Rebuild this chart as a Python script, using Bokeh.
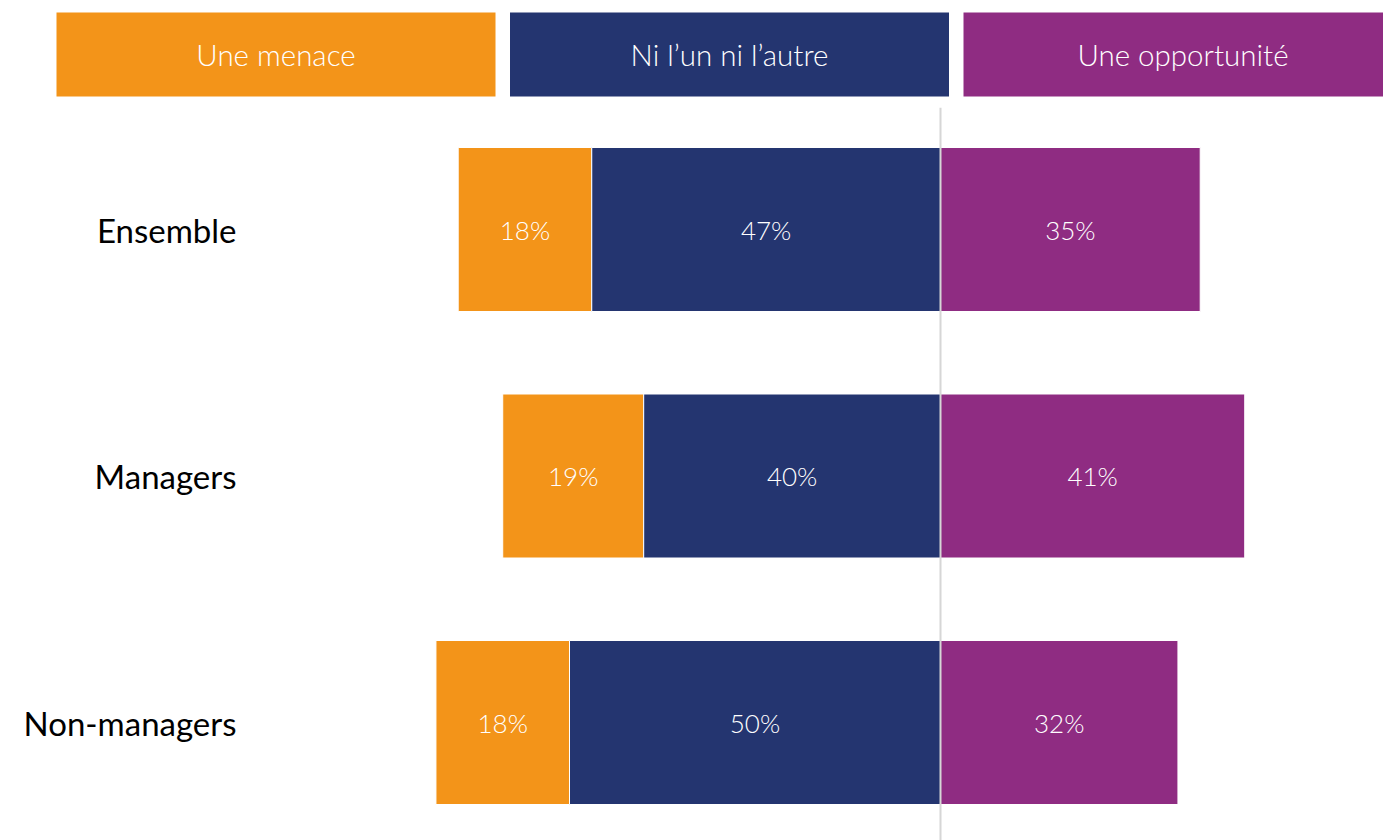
from bokeh.plotting import figure
from bokeh.layouts import column
from bokeh.models import ColumnDataSource, Range1d, Span
from bokeh.core.properties import value
from bokeh.embed import file_html
from bokeh.resources import INLINE

# ---- data ----
categories = ["Ensemble", "Managers", "Non-managers"]
series_names = ["Une menace", "Ni l\u2019un ni l\u2019autre", "Une opportunit\u00e9"]
menace = [18, 19, 18]
neither = [47, 40, 50]
opportunite = [35, 41, 32]
colors = ["#F39419", "#243570", "#8F2C82"]

FONT = value("'Lato Light', Lato")
FONT_CAT = value("Lato")
W = 1383

# ---- header (legend row) ----
HH = 107
step = 453.5
hstart = -275.5 / step
hdr = figure(width=W, height=HH, output_backend="svg", toolbar_location=None,
             x_range=Range1d(hstart, hstart + W / step), y_range=Range1d(HH, 0),
             min_border=0)
hdr.xaxis.visible = False
hdr.yaxis.visible = False
hdr.grid.visible = False
hdr.outline_line_color = None
hsrc = ColumnDataSource(dict(x=list(range(len(series_names))), name=series_names, color=colors))
hdr.rect(x="x", y=54, width=439 / step, height=84, source=hsrc,
         fill_color="color", line_color=None)
hdr.text(x="x", y=54, text="name", source=hsrc, text_color="white",
         text_font=FONT, text_font_size="29.5px", text_align="center",
         text_baseline="middle")

# ---- main diverging bar chart ----
px_per_pct = 7.42
zero_px = 940
xr = Range1d(-zero_px / px_per_pct, (W - zero_px) / px_per_pct)
H = 840 - HH
spacing = 246.5
top_c = 229 - HH
yr = Range1d(start=(H - top_c) / spacing, end=-top_c / spacing)

p = figure(width=W, height=H, output_backend="svg", toolbar_location=None,
           x_range=xr, y_range=yr, min_border=0)
p.grid.visible = False
p.xaxis.visible = False
p.yaxis.visible = False
p.outline_line_color = None

ys = list(range(len(categories)))
bh = 164 / spacing
left_or = [-(m + n) for m, n in zip(menace, neither)]
right_or = [-n for n in neither]
label_x = (236 - zero_px) / px_per_pct
src = ColumnDataSource(dict(
    y=ys, cat=categories, lx=[label_x] * len(ys),
    lo=left_or, ro=right_or, ln=[-n for n in neither], rn=[0] * len(ys),
    lp=[0] * len(ys), rp=opportunite,
    to=[f"{v}%" for v in menace], tn=[f"{v}%" for v in neither], tp=[f"{v}%" for v in opportunite],
    co=[(a + b) / 2 for a, b in zip(left_or, right_or)],
    cn=[-n / 2 for n in neither], cp=[o / 2 for o in opportunite],
))
p.hbar(y="y", left="lo", right="ro", height=bh, source=src, fill_color=colors[0], line_color="white", line_width=1)
p.hbar(y="y", left="ln", right="rn", height=bh, source=src, fill_color=colors[1], line_color="white", line_width=1)
p.hbar(y="y", left="lp", right="rp", height=bh, source=src, fill_color=colors[2], line_color="white", line_width=1)
for cx, tx in (("co", "to"), ("cn", "tn"), ("cp", "tp")):
    p.text(x=cx, y="y", text=tx, source=src, text_color="white", text_font=FONT,
           text_font_size="26px", text_align="center", text_baseline="middle")

p.text(x="lx", y="y", text="cat", source=src, text_color="black", text_font=FONT_CAT,
       text_font_size="33px", text_align="right", text_baseline="middle")

p.add_layout(Span(location=0, dimension="height", line_color="#D6D6D6", line_width=2, level="overlay"))

layout = column(hdr, p, spacing=0)
open("out.html", "w").write(file_html(layout, INLINE))
